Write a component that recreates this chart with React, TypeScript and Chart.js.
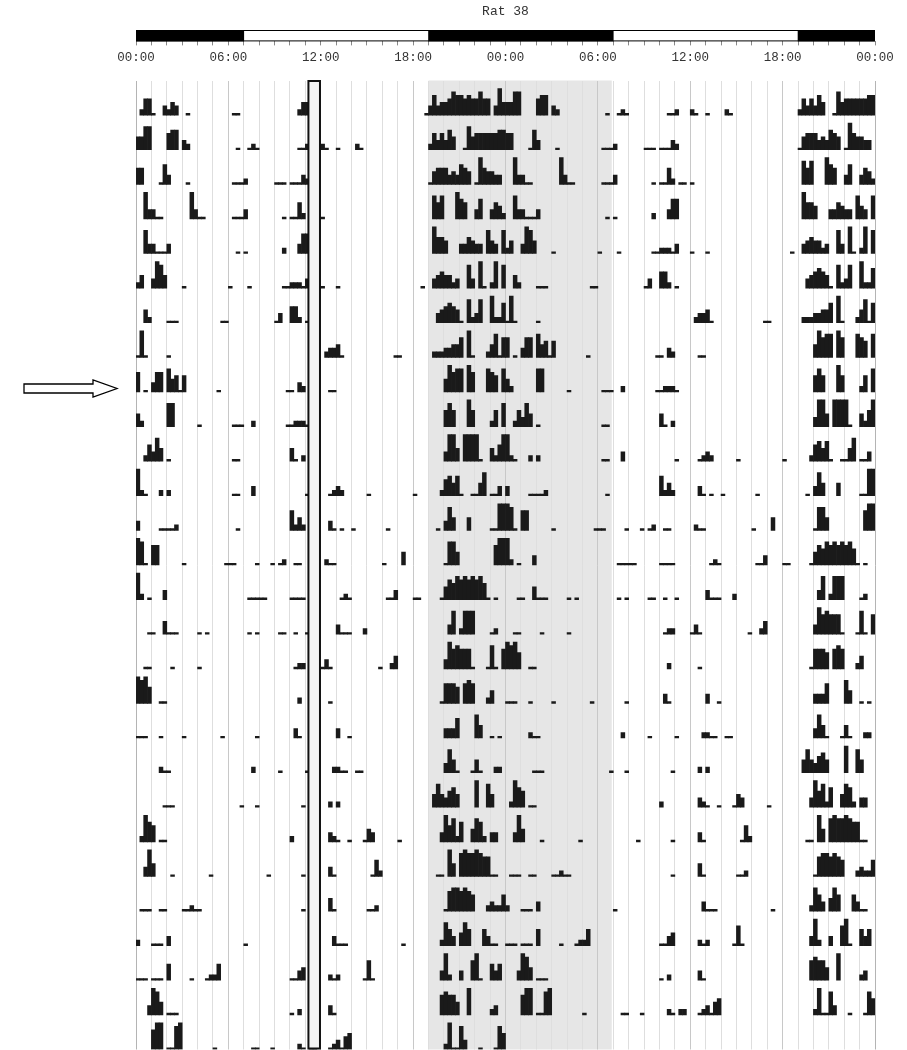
import React, { useEffect, useRef } from 'react';
import { Chart, registerables } from 'chart.js';

Chart.register(...registerables);

type Seg = [number, string];

const MONO = "'Liberation Mono', 'Courier New', monospace";

// Title / axis text
const chartTitle = 'Rat 38';
const hourLabels = ['00:00', '06:00', '12:00', '18:00', '00:00', '06:00', '12:00', '18:00', '00:00'];

// Light/dark schedule over the 48 h double-plot (dark periods, hours)
const lightsOff: [number, number][] = [[0, 7], [19, 31], [43, 48]];
// Shaded dark-phase band in the actogram (hours)
const nightBand: [number, number] = [19, 30.9];
// Highlighted window (hours)
const highlightWindow: [number, number] = [11.2, 11.95];

// activity level code -> fraction of a row height
const levelHeights = [0, 0.05, 0.16, 0.27, 0.37, 0.47, 0.57, 0.67, 0.77, 0.85];
const BIN = 0.25; // 15-minute bins

// Daily activity: [start hour, levels of consecutive 15-min bins]
const day00: Seg[] = [[0.25, '2551'], [1.75, '3243'], [3.25, '1'], [6.25, '11'], [10.5, '244'], [18.75, '136344576656557550384']];
const day01: Seg[] = [[0, '4477'], [2, '566032'], [6.5, '1'], [7.25, '121'], [10.5, '112'], [12, '21'], [13, '1'], [14.25, '21'], [19, '25353640017455555566']];
const day02: Seg[] = [[0, '55'], [1.5, '163'], [3.25, '1'], [6.25, '1112'], [9, '111'], [10, '11132'], [19, '1455534365401854433']];
const day03: Seg[] = [[0.5, '83311'], [3.5, '8311'], [6.25, '1113'], [9.5, '101'], [10.25, '152011'], [12, '1'], [19.25, '7570008650036003542']];
const day04: Seg[] = [[0.5, '7331113'], [6.5, '101'], [9.5, '2'], [10.5, '366'], [19.25, '8554000335433074307']];
const day05: Seg[] = [[0, '24'], [1, '3874'], [3, '1'], [6, '1'], [7.25, '1'], [9.5, '1122213'], [12, '1'], [13, '1'], [18.5, '1'], [19.25, '3454423007308102807']];
const day06: Seg[] = [[0.5, '42'], [2, '111'], [5.5, '11'], [9, '13'], [10, '55201'], [19.5, '345654107237008226']];
const day07: Seg[] = [[0, '181'], [2, '1'], [12.25, '23341'], [16.75, '11'], [19.25, '2223344608100024716']];
const day08: Seg[] = [[0, '601'], [1, '366074515'], [5.25, '1'], [9.75, '11032'], [12.5, '11'], [20, '4867708600076507']];
const day09: Seg[] = [[0, '42'], [2, '77'], [4, '1'], [6.25, '111'], [7.5, '2'], [9.75, '112221'], [20, '5750008500002507']];
const day10: Seg[] = [[0.5, '2537401'], [6.25, '11'], [10, '4102'], [20, '3884088881004258']];
const day11: Seg[] = [[0, '821'], [1.5, '202'], [6.25, '11'], [7.5, '3'], [11, '1'], [12.5, '1232'], [15, '1'], [18, '1'], [19.75, '2564610011470113']];
const day12: Seg[] = [[0, '3'], [1.5, '11112'], [6.5, '1'], [10, '6242'], [12.5, '31'], [13.25, '1'], [14, '1'], [16.25, '1'], [19.5, '103740004000001188']];
const day13: Seg[] = [[0, '871066'], [3, '1'], [5.75, '111'], [7.75, '1'], [8.75, '1'], [9.25, '12'], [10.25, '11'], [12.25, '211'], [16, '1'], [17.25, '4'], [20, '1774000000000688']];
const day14: Seg[] = [[0, '82'], [0.75, '1'], [1.75, '3'], [7.25, '11111'], [10, '1111'], [13.25, '121'], [16.25, '113'], [18, '11'], [19.75, '146576767675101']];
const day15: Seg[] = [[0.75, '11'], [1.75, '4111'], [4, '1'], [4.5, '1'], [7.25, '1'], [7.75, '1'], [9.25, '11'], [10.25, '1'], [11, '1'], [13, '3111'], [14.75, '2'], [20.25, '3702777000012']];
const day16: Seg[] = [[0.5, '11'], [2.25, '1'], [4, '1'], [10.25, '122'], [12, '131'], [15.75, '1'], [16.5, '24'], [20, '3867666100017106']];
const day17: Seg[] = [[0, '8785'], [1.5, '11'], [10.5, '2'], [12.5, '1'], [19.75, '16665067600024']];
const day18: Seg[] = [[0, '111'], [1.5, '1'], [3, '1'], [5.5, '1'], [7.75, '1'], [10.25, '31'], [13, '3'], [13.75, '1'], [20, '333600007400101']];
const day19: Seg[] = [[1.5, '211'], [7.5, '2'], [9.25, '1'], [11, '1'], [12.75, '2211'], [14.25, '11'], [20, '374100014100022']];
const day20: Seg[] = [[1.75, '111'], [6.75, '1'], [7.75, '1'], [10.75, '1'], [12.5, '202'], [19.25, '4743564000080074']];
const day21: Seg[] = [[0.25, '2865'], [1.5, '11'], [10, '2'], [12.5, '321'], [13.75, '1'], [14.75, '143'], [17, '1'], [19.75, '385726004762033']];
const day22: Seg[] = [[0.5, '384'], [2.25, '1'], [4.75, '1'], [8.5, '1'], [10.75, '1'], [12.5, '31'], [15.25, '152'], [19.5, '1108407877876611']];
const day23: Seg[] = [[0.25, '111'], [1.5, '11'], [3, '11211'], [10.75, '1'], [12.5, '41'], [15, '112'], [20, '1677676500023225']];
const day24: Seg[] = [[0, '200011103'], [7, '1'], [12.75, '3111'], [17.25, '1'], [19.75, '275304750005311']];
const day25: Seg[] = [[0, '111011105'], [3.5, '1'], [4.5, '1225'], [10, '1134'], [12.5, '212'], [14.75, '161'], [19.75, '3820030068100535']];
const day26: Seg[] = [[0.75, '3874'], [2, '111'], [10, '102'], [12.5, '31'], [19.75, '67664008000002300']];
const day27: Seg[] = [[1, '688'], [2, '1178'], [5, '1'], [7.5, '11'], [8.75, '1'], [10.5, '21022'], [12.5, '123145'], [20, '2811730001000175']];
const day28: Seg[] = [];

const days: Seg[][] = [
  day00, day01, day02, day03, day04, day05, day06, day07, day08, day09,
  day10, day11, day12, day13, day14, day15, day16, day17, day18, day19,
  day20, day21, day22, day23, day24, day25, day26, day27, day28,
];
const ROWS = days.length - 1;

function expandDay(segs: Seg[]) {
  const out: { t: number; h: number }[] = [];
  for (const [start, levels] of segs) {
    for (let k = 0; k < levels.length; k++) {
      const lv = Number(levels[k]);
      if (lv > 0) out.push({ t: start + k * BIN + BIN / 2, h: levelHeights[lv] });
    }
  }
  return out;
}

function buildBars() {
  const expanded = days.map(expandDay);
  const pts: { x: number; y: [number, number] }[] = [];
  for (let r = 0; r < ROWS; r++) {
    const base = r + 1;
    for (const b of expanded[r]) pts.push({ x: b.t, y: [base - b.h, base] });
    for (const b of expanded[r + 1]) pts.push({ x: 24 + b.t, y: [base - b.h, base] });
  }
  return pts;
}

const ldBoxPlugin = {
  id: 'ldBox',
  afterDatasetsDraw(chart: any) {
    const { ctx, chartArea } = chart;
    ctx.save();
    ctx.strokeStyle = '#000';
    ctx.lineWidth = 1;
    ctx.strokeRect(chartArea.left + 0.5, chartArea.top + 0.5, chartArea.right - chartArea.left - 1, chartArea.bottom - chartArea.top - 1);
    ctx.restore();
  },
};

const bandPlugin = {
  id: 'nightBand',
  beforeDraw(chart: any) {
    const { ctx, chartArea, scales } = chart;
    const x0 = scales.x.getPixelForValue(nightBand[0]);
    const x1 = scales.x.getPixelForValue(nightBand[1]);
    ctx.save();
    ctx.fillStyle = '#e6e6e6';
    ctx.fillRect(x0, chartArea.top, x1 - x0, chartArea.bottom - chartArea.top);
    ctx.restore();
  },
};

const windowPlugin = {
  id: 'highlightWindow',
  afterDatasetsDraw(chart: any) {
    const { ctx, chartArea, scales } = chart;
    const x0 = scales.x.getPixelForValue(highlightWindow[0]);
    const x1 = scales.x.getPixelForValue(highlightWindow[1]);
    const top = chartArea.top + 0.5;
    const h = chartArea.bottom - chartArea.top - 1.5;
    ctx.save();
    ctx.fillStyle = '#f4f4f4';
    ctx.fillRect(x0, top, x1 - x0, h);
    ctx.strokeStyle = '#111';
    ctx.lineWidth = 2;
    ctx.strokeRect(x0, top, x1 - x0, h);
    ctx.restore();
  },
};

export default function App() {
  const topRef = useRef<HTMLCanvasElement>(null);
  const mainRef = useRef<HTMLCanvasElement>(null);

  useEffect(() => {
    const top = new Chart(topRef.current as HTMLCanvasElement, {
      type: 'bar',
      data: {
        labels: ['LD'],
        datasets: lightsOff.map((seg) => ({
          label: 'dark',
          data: [seg],
          backgroundColor: '#000',
          borderWidth: 0,
          grouped: false,
          barPercentage: 1,
          categoryPercentage: 1,
        })) as any,
      },
      options: {
        indexAxis: 'y',
        animation: false,
        responsive: false,
        layout: { padding: { left: 136, right: 32, top: 0, bottom: 7.6 } },
        plugins: {
          legend: { display: false },
          tooltip: { enabled: false },
          title: {
            display: true,
            text: chartTitle,
            color: '#333',
            font: { family: MONO, size: 13, weight: 'normal' },
            padding: { top: 4, bottom: 10.4 },
          },
        },
        scales: {
          x: {
            type: 'linear',
            min: 0,
            max: 48,
            offset: false,
            position: 'bottom',
            ticks: {
              stepSize: 1,
              autoSkip: false,
              maxRotation: 0,
              minRotation: 0,
              padding: 5,
              color: '#333',
              font: { family: MONO, size: 12.5 },
              callback: (v: any) => {
                const n = Number(v);
                return n % 6 === 0 ? hourLabels[n / 6] : '';
              },
            },
            grid: { offset: false, drawOnChartArea: false, drawTicks: true, tickLength: 4, tickColor: '#888' },
            border: { display: false },
          },
          y: { display: false },
        },
      } as any,
      plugins: [ldBoxPlugin],
    });

    const main = new Chart(mainRef.current as HTMLCanvasElement, {
      type: 'bar',
      data: {
        datasets: [
          {
            label: 'activity',
            data: buildBars() as any,
            backgroundColor: '#1a1a1a',
            borderWidth: 0,
            barPercentage: 1,
            categoryPercentage: 1,
          },
        ],
      },
      options: {
        animation: false,
        responsive: false,
        layout: { padding: { left: 136, right: 32, top: 2.5, bottom: 0.5 } },
        plugins: { legend: { display: false }, tooltip: { enabled: false } },
        scales: {
          x: {
            type: 'linear',
            min: 0,
            max: 48,
            offset: false,
            position: 'top',
            ticks: { display: false, stepSize: 1 },
            grid: {
              offset: false,
              drawTicks: false,
              lineWidth: 1,
              color: (c: any) => {
                const v = c.tick ? c.tick.value : 1;
                if (v === 0 || v === 48) return '#b4b4b4';
                return v % 6 === 0 ? '#c8c8c8' : '#dedede';
              },
            },
            border: { display: false },
          },
          y: { type: 'linear', min: 0, max: ROWS, reverse: true, display: false },
        },
      } as any,
      plugins: [bandPlugin, windowPlugin],
    });

    return () => {
      top.destroy();
      main.destroy();
    };
  }, []);

  return (
    <div style={{ position: 'absolute', left: 0, top: 0, width: 907, height: 1050, background: '#fff', overflow: 'hidden' }}>
      <canvas ref={topRef} width={907} height={78} style={{ position: 'absolute', left: 0, top: 0 }} />
      <canvas ref={mainRef} width={907} height={972} style={{ position: 'absolute', left: 0, top: 78 }} />
      <svg width={130} height={30} style={{ position: 'absolute', left: 0, top: 374 }}>
        <polygon
          points="24,10 93,10 93,6 117,14.5 93,23 93,19 24,19"
          fill="#fff"
          stroke="#000"
          strokeWidth={1.3}
        />
      </svg>
    </div>
  );
}
